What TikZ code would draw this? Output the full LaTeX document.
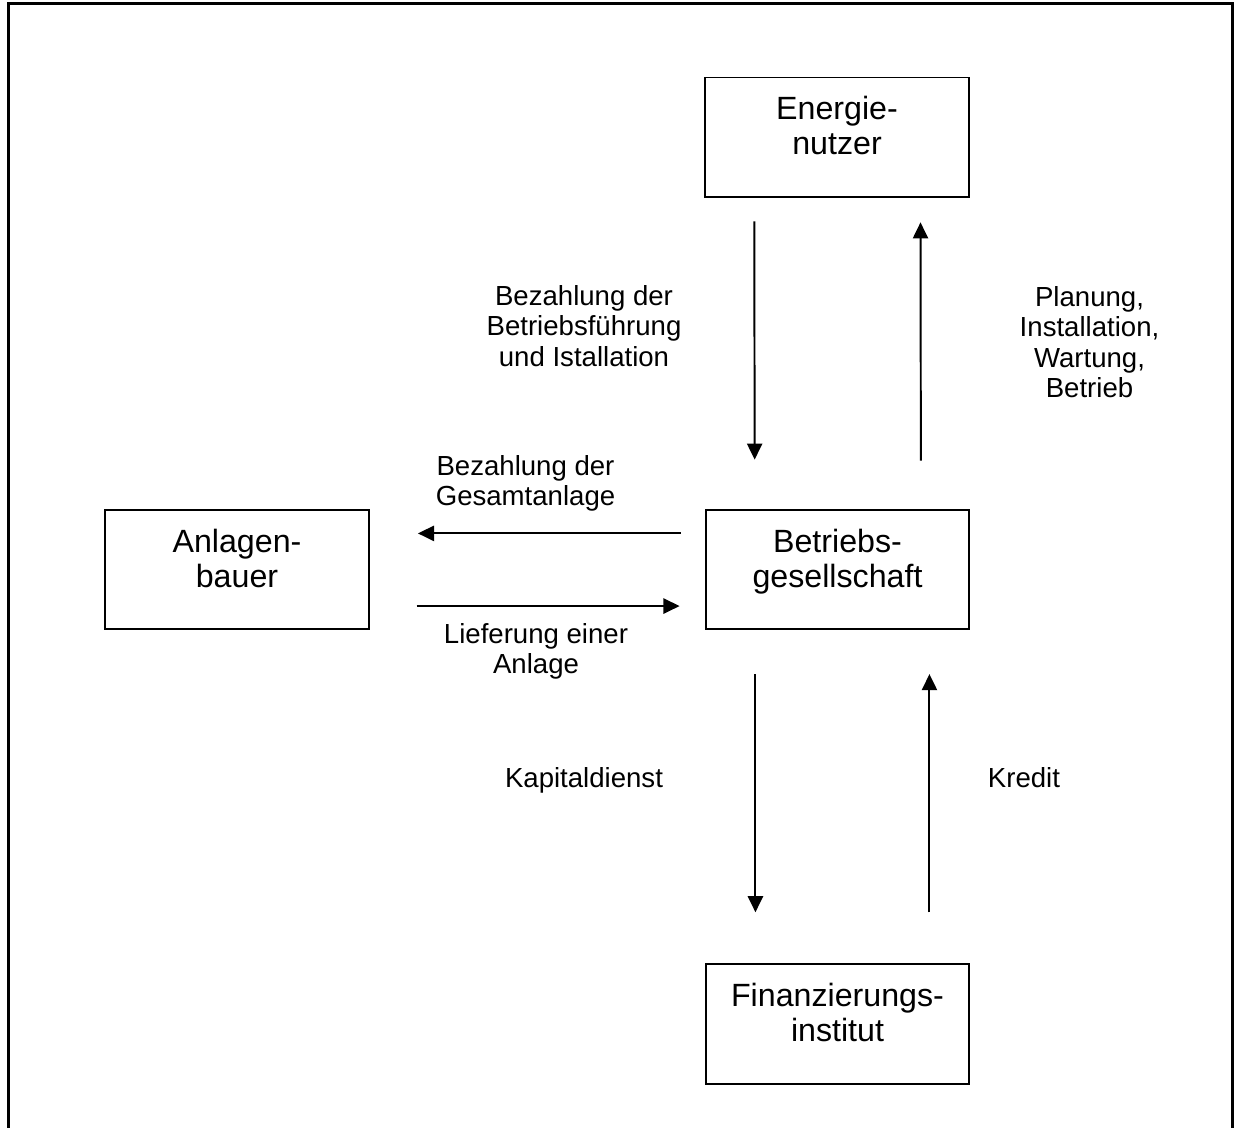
\documentclass[tikz,border=0pt]{standalone}
\usepackage{fontspec}
\setmainfont{Liberation Sans}
\usetikzlibrary{arrows.meta}

\begin{document}
\begin{tikzpicture}[x=0.435pt, y=-0.435pt,
      party/.style = {shape=rectangle, draw, line width=0.8pt,
        minimum width=114.6pt, minimum height=52pt, align=center,
        text depth=10pt, font=\fontsize{14pt}{15.2pt}\selectfont},
      flow/.style = {line width=0.85pt, -{Triangle[length=7pt,width=6.6pt]}},
      note/.style = {anchor=north, inner sep=0pt, align=center,
        font=\fontsize{12pt}{13.2pt}\selectfont}]
  \useasboundingbox (0,0) rectangle (1240,1128);
  \draw[line width=1.3pt] (8.7,1128) -- (8.7,4) -- (1232.7,4) -- (1232.7,1128);
  % the four parties
  \node[party] (nutzer) at (837,137.3) {Energie-\\nutzer};
  \node[party] (bauer) at (237,569.5) {Anlagen-\\bauer};
  \node[party] (betrieb) at (837.5,569.5) {Betriebs-\\gesellschaft};
  \node[party] (bank) at (837.5,1024) {Finanzierungs-\\institut};
  % flows
  \draw[flow, shorten <=10.2pt, shorten >=21.4pt]
    ([xshift=-36pt]nutzer.south) -- ([xshift=-36pt]betrieb.north);
  \draw[flow, shorten <=21pt, shorten >=10.6pt]
    ([xshift=36.3pt]betrieb.north) -- ([xshift=36.3pt]nutzer.south);
  \draw[flow, shorten <=10.4pt, shorten >=21pt]
    ([yshift=15.7pt]betrieb.west) -- ([yshift=15.7pt]bauer.east);
  \draw[flow, shorten <=20.4pt, shorten >=11pt]
    ([yshift=-15.9pt]bauer.east) -- ([yshift=-15.9pt]betrieb.west);
  \draw[flow, shorten <=19.1pt, shorten >=22.2pt]
    ([xshift=-35.7pt]betrieb.south) -- ([xshift=-35.7pt]bank.north);
  \draw[flow, shorten <=22.2pt, shorten >=19.1pt]
    ([xshift=40pt]bank.north) -- ([xshift=40pt]betrieb.south);
  % labels
  \node[note] (zahlbetrieb) at (584,285) {Bezahlung der\\Betriebsführung\\und Istallation};
  \node[note] (leistung) at (1089.5,286) {Planung,\\Installation,\\Wartung,\\Betrieb};
  \node[note] (zahlanlage) at (525.5,455) {Bezahlung der\\Gesamtanlage};
  \node[note] (lieferung) at (536,623) {Lieferung einer\\Anlage};
  \node[note] (kapital) at (584,767) {Kapitaldienst};
  \node[note] (kredit) at (1024,767) {Kredit};
\end{tikzpicture}
\end{document}
